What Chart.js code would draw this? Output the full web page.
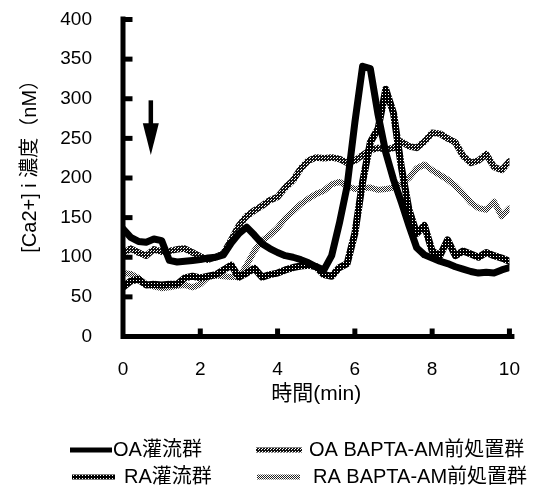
<!DOCTYPE html>
<html>
<head>
<meta charset="utf-8">
<title>[Ca2+]i 濃度</title>
<style>
  body {
    margin: 0;
    background: #ffffff;
  }
  #wrap {
    width: 542px;
    height: 492px;
  }
</style>
<script src="https://cdn.jsdelivr.net/npm/chart.js"></script>
</head>
<body>
<div id="wrap"><canvas id="chart" width="542" height="492"></canvas></div>
<script>
// time (min), one sample every 0.2 min
const times = [0, 0.2, 0.4, 0.6, 0.8, 1, 1.2, 1.4, 1.6, 1.8, 2, 2.2, 2.4, 2.6, 2.8, 3, 3.2, 3.4, 3.6, 3.8,
  4, 4.2, 4.4, 4.6, 4.8, 5, 5.2, 5.4, 5.6, 5.8, 6, 6.2, 6.4, 6.6, 6.8, 7, 7.2, 7.4, 7.6, 7.8,
  8, 8.2, 8.4, 8.6, 8.8, 9, 9.2, 9.4, 9.6, 9.8, 10];

// [Ca2+]i (nM)
const oaPerfusion = [136, 125, 120, 119, 123, 121, 96, 94, 95, 96, 97, 99, 100, 103, 118, 130, 138, 128, 117, 111,
  106, 102, 100, 97, 93, 88, 84, 102, 143, 190, 270, 341, 338, 280, 232, 198, 170, 140, 112, 103,
  99, 95, 92, 88, 85, 82, 80, 81, 80, 84, 87];
const raPerfusion = [62, 70, 72, 65, 66, 65, 66, 66, 74, 76, 74, 76, 78, 84, 90, 75, 80, 86, 75, 78,
  80, 84, 87, 89, 90, 88, 78, 76, 87, 92, 130, 195, 245, 262, 312, 282, 215, 160, 130, 140,
  108, 102, 122, 102, 108, 104, 100, 106, 102, 99, 95];
const oaBapta = [105, 111, 106, 102, 110, 107, 108, 110, 111, 106, 101, 97, 100, 105, 122, 140, 152, 159, 165, 172,
  176, 188, 197, 212, 222, 226, 225, 226, 224, 219, 222, 229, 235, 238, 236, 238, 246, 240, 238, 246,
  257, 256, 250, 245, 228, 219, 222, 230, 214, 210, 221];
const raBapta = [80, 79, 74, 66, 63, 61, 62, 64, 65, 62, 66, 75, 77, 76, 75, 75, 90, 108, 121, 128,
  137, 149, 158, 167, 174, 180, 184, 192, 195, 190, 186, 187, 188, 185, 186, 188, 192, 200, 212, 217,
  210, 204, 198, 190, 180, 169, 162, 160, 170, 152, 162];

const seriesLabels = ['OA灌流群', 'RA灌流群', 'OA BAPTA-AM前処置群', 'RA BAPTA-AM前処置群'];
const yTicks = [0, 50, 100, 150, 200, 250, 300, 350, 400];
const xTicks = [0, 2, 4, 6, 8, 10];
// arrow: time, top value, tip value
const arrowMark = [0.72, 298, 229];

const fontLatin = '"Liberation Sans", Arial, "Noto Sans CJK JP", sans-serif';

// halftone fill for the screened lines
function halftone(size, dots, ink) {
  const c = document.createElement('canvas');
  c.width = size;
  c.height = size;
  const g = c.getContext('2d');
  g.fillStyle = '#ffffff';
  g.fillRect(0, 0, size, size);
  g.fillStyle = ink;
  dots.forEach(d => g.fillRect(d[0], d[1], 1, 1));
  return g.createPattern(c, 'repeat');
}
const ctx = document.getElementById('chart').getContext('2d');
const darkScreen = halftone(3, [[0,0],[1,0],[2,0],[0,1],[2,1],[0,2],[1,2],[2,2]], '#000');
const midScreen = halftone(3, [[0,0],[1,0],[2,0],[0,1],[2,1],[1,2],[2,2]], '#111');
const lightScreen = halftone(2, [[0,0],[1,1]], '#222');

const legendSpots = [
  {sx: 70, ex: 112, tx: 113, y: 450},
  {sx: 72, ex: 115, tx: 124, y: 477},
  {sx: 256, ex: 302, tx: 309, y: 450},
  {sx: 257, ex: 300, tx: 313, y: 477}
];

const extras = {
  id: 'extras',
  afterDraw(chart) {
    const c = chart.ctx;
    const x = chart.scales.x, y = chart.scales.y;
    const area = chart.chartArea;
    c.save();
    c.strokeStyle = '#000';
    c.lineCap = 'butt';
    // axes
    c.lineWidth = 5;
    c.beginPath();
    c.moveTo(area.left, area.top - 3);
    c.lineTo(area.left, area.bottom + 2.5);
    c.moveTo(area.left - 2.5, area.bottom);
    c.lineTo(area.right + 5, area.bottom);
    c.stroke();
    // inward ticks
    yTicks.forEach(v => {
      const py = y.getPixelForValue(v);
      c.beginPath();
      c.moveTo(area.left, py);
      c.lineTo(area.left + 9.5, py);
      c.stroke();
    });
    xTicks.forEach(v => {
      if (v === 0) return;
      const px = x.getPixelForValue(v);
      c.beginPath();
      c.moveTo(px, area.bottom);
      c.lineTo(px, area.bottom - 8);
      c.stroke();
    });
    // arrow
    const ax = x.getPixelForValue(arrowMark[0]);
    const ay0 = y.getPixelForValue(arrowMark[1]);
    const ay1 = y.getPixelForValue(arrowMark[2]);
    const head = (ay1 - ay0) * 0.58;
    c.lineWidth = 4.5;
    c.beginPath();
    c.moveTo(ax, ay0);
    c.lineTo(ax, ay1 - head + 2);
    c.stroke();
    c.fillStyle = '#000';
    c.beginPath();
    c.moveTo(ax - 8, ay1 - head);
    c.lineTo(ax + 8, ay1 - head);
    c.lineTo(ax, ay1);
    c.closePath();
    c.fill();
    // legend
    c.font = '20px ' + fontLatin;
    c.textBaseline = 'middle';
    c.textAlign = 'left';
    chart.data.datasets.forEach((ds, i) => {
      const s = legendSpots[i];
      c.strokeStyle = ds.borderColor;
      c.lineWidth = 5;
      c.beginPath();
      c.moveTo(s.sx, s.y);
      c.lineTo(s.ex, s.y);
      c.stroke();
      c.fillStyle = '#000';
      c.fillText(ds.label, s.tx, s.y);
    });
    c.restore();
  }
};

function pts(vals) {
  return vals.map((v, i) => ({x: times[i], y: v}));
}

new Chart(ctx, {
  type: 'line',
  data: {
    datasets: [
      {label: seriesLabels[0], data: pts(oaPerfusion), borderColor: '#000', borderWidth: 7},
      {label: seriesLabels[1], data: pts(raPerfusion), borderColor: darkScreen, borderWidth: 7},
      {label: seriesLabels[2], data: pts(oaBapta), borderColor: midScreen, borderWidth: 6.5},
      {label: seriesLabels[3], data: pts(raBapta), borderColor: lightScreen, borderWidth: 6}
    ]
  },
  options: {
    responsive: false,
    animation: false,
    devicePixelRatio: 1,
    layout: {padding: {top: 19.5, right: 10, bottom: 82, left: 0}},
    elements: {
      point: {radius: 0},
      line: {tension: 0, borderJoinStyle: 'round', borderCapStyle: 'round', fill: false}
    },
    plugins: {
      legend: {display: false},
      tooltip: {enabled: false}
    },
    scales: {
      x: {
        type: 'linear',
        min: 0,
        max: 10,
        afterFit: s => { s.height = 73.5; },
        afterBuildTicks: s => { s.ticks = xTicks.map(v => ({value: v})); },
        grid: {display: false, drawTicks: false},
        border: {display: false},
        ticks: {color: '#000', padding: 22, font: {family: fontLatin, size: 19}},
        title: {
          display: true,
          text: '時間(min)',
          color: '#000',
          padding: {top: 0, bottom: 3},
          font: {family: fontLatin, size: 21}
        }
      },
      y: {
        min: 0,
        max: 400,
        afterFit: s => { s.width = 123; s.paddingTop = 10; s.paddingBottom = 10; },
        afterBuildTicks: s => { s.ticks = yTicks.map(v => ({value: v})); },
        grid: {display: false, drawTicks: false},
        border: {display: false},
        ticks: {color: '#000', padding: 31, font: {family: fontLatin, size: 19}},
        title: {
          display: true,
          text: '      [Ca2+] i 濃度（nM）',
          color: '#000',
          padding: {top: 18, bottom: 0},
          font: {family: fontLatin, size: 20}
        }
      }
    }
  },
  plugins: [extras]
});
</script>
</body>
</html>
